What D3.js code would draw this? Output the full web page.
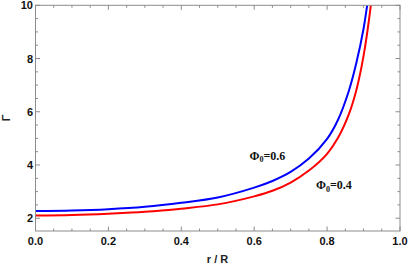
<!DOCTYPE html>
<html><head><meta charset="utf-8">
<script src="https://cdn.jsdelivr.net/npm/d3@7"></script>
<style>body{margin:0;background:#fff}svg{display:block}</style>
</head><body>
<svg id="c" width="409" height="265"></svg>
<script>
// data
const rBlue = [0.00,0.10,0.20,0.30,0.40,0.50,0.60,0.65,0.70,0.75,0.80,0.83,0.86,0.88,0.90,0.912,0.92];
const gBlue = [2.27,2.29,2.34,2.43,2.58,2.78,3.15,3.40,3.74,4.24,4.98,5.70,6.80,7.82,9.12,10.2,11.0];
const rRed  = [0.00,0.10,0.20,0.30,0.40,0.50,0.60,0.65,0.70,0.75,0.80,0.83,0.86,0.88,0.90,0.92,0.93];
const gRed  = [2.10,2.12,2.17,2.24,2.36,2.52,2.82,3.03,3.34,3.79,4.42,5.02,5.92,6.80,8.10,10.0,11.3];
const xTicks = [0,0.2,0.4,0.6,0.8,1.0];
const yTicks = [2,4,6,8,10];
const seriesLabels = ["0.6","0.4"];

const svg = d3.select("#c");
const L=35.5, R=400, T=5.3, B=231;
const x = d3.scaleLinear().domain([0,1]).range([L,R]);
const y = d3.scaleLinear().domain([1.52,10]).range([B,T]);
const frame = "#8c8c8c";

svg.append("clipPath").attr("id","clip").append("rect").attr("x",L).attr("y",T).attr("width",R-L).attr("height",B-T);

const line = d3.line().x(d=>x(d[0])).y(d=>y(d[1])).curve(d3.curveCatmullRom.alpha(0.5));
const g = svg.append("g").attr("clip-path","url(#clip)");
g.append("path").datum(d3.zip(rRed,gRed)).attr("d",line).attr("fill","none").attr("stroke","#ff0000").attr("stroke-width",2);
g.append("path").datum(d3.zip(rBlue,gBlue)).attr("d",line).attr("fill","none").attr("stroke","#0000ff").attr("stroke-width",2);

// frame
svg.append("rect").attr("x",L).attr("y",T).attr("width",R-L).attr("height",B-T).attr("fill","none").attr("stroke",frame).attr("stroke-width",1);

// ticks (inward, all four sides)
const xMinor = d3.range(0,1.0001,0.05);
const yMinor = d3.range(2,10.0001,0.5);
const tk = svg.append("g").attr("stroke",frame).attr("stroke-width",1);
xMinor.forEach(v=>{
  const major = xTicks.some(t=>Math.abs(t-v)<1e-6);
  const len = major?4.5:2.5;
  tk.append("line").attr("x1",x(v)).attr("x2",x(v)).attr("y1",B).attr("y2",B-len);
  tk.append("line").attr("x1",x(v)).attr("x2",x(v)).attr("y1",T).attr("y2",T+len);
});
yMinor.forEach(v=>{
  const major = yTicks.some(t=>Math.abs(t-v)<1e-6);
  const len = major?4.5:2.5;
  tk.append("line").attr("y1",y(v)).attr("y2",y(v)).attr("x1",L).attr("x2",L+len);
  tk.append("line").attr("y1",y(v)).attr("y2",y(v)).attr("x1",R).attr("x2",R-len);
});

const font = "'Liberation Sans', Arial, sans-serif";
svg.append("g").selectAll("text").data(xTicks).join("text")
  .attr("x",d=>x(d)).attr("y",244.5).attr("text-anchor","middle")
  .attr("font-family",font).attr("font-weight","bold").attr("font-size",11).attr("fill","#111")
  .text(d=>d3.format(".1f")(d));
svg.append("g").selectAll("text").data(yTicks).join("text")
  .attr("x",33).attr("y",d=>y(d)+4).attr("text-anchor","end")
  .attr("font-family",font).attr("font-weight","bold").attr("font-size",11).attr("fill","#111")
  .text(d=>d);

svg.append("text").attr("x",217.5).attr("y",263).attr("text-anchor","middle")
  .attr("font-family",font).attr("font-weight","bold").attr("font-size",11).attr("fill","#222").text("r / R");
svg.append("text").attr("transform","translate(10,118) rotate(-90)").attr("text-anchor","middle")
  .attr("font-family",font).attr("font-weight","bold").attr("font-size",11).attr("fill","#222").text("Γ");

// series annotations
const lab = svg.append("g").attr("font-family","'Liberation Serif','Times New Roman',serif").attr("font-weight","bold").attr("font-size",12).attr("fill","#111");
[{v:seriesLabels[0], px:249.5, py:159.5},{v:seriesLabels[1], px:316, py:189}].forEach(d=>{
  const t = lab.append("text").attr("x",d.px).attr("y",d.py);
  t.append("tspan").text("Φ");
  t.append("tspan").attr("font-size",8).attr("dy",2.5).text("0");
  t.append("tspan").attr("dy",-2.5).text("=" + d.v);
});
</script>
</body></html>
